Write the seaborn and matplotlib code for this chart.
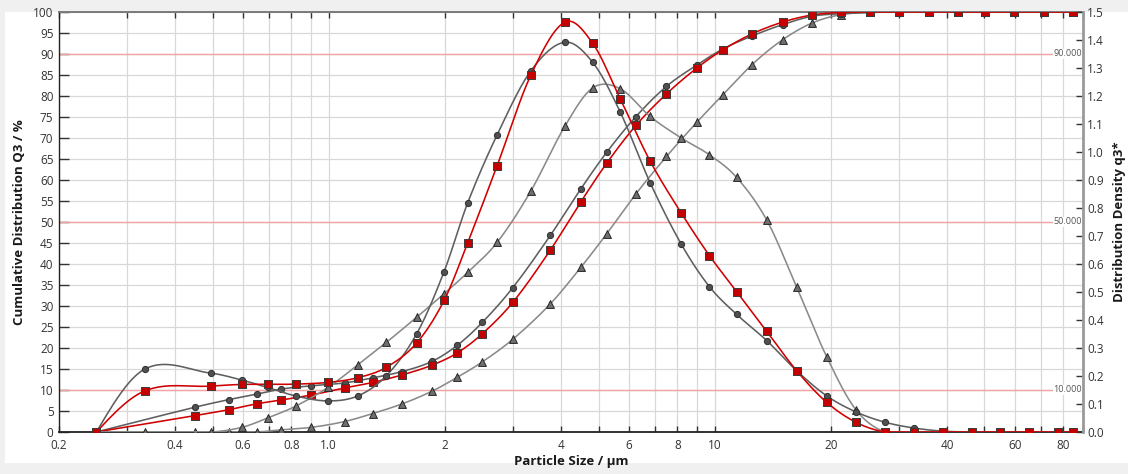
import numpy as np
import pandas as pd
import matplotlib
matplotlib.use("Agg")
import matplotlib.pyplot as plt
import matplotlib.transforms as mtransforms
from matplotlib.patches import Rectangle
from matplotlib.ticker import FixedLocator, FixedFormatter, NullLocator
import seaborn as sns

# ---------------- data ----------------
# cumulative distribution Q3 (%) at the class edges (µm)
edge_size = [0.25, 0.45, 0.55, 0.65, 0.75, 0.9, 1.1, 1.3, 1.55, 1.85, 2.15, 2.5,
             3.0, 3.75, 4.5, 5.25, 6.25, 7.5, 9.0, 10.5, 12.5, 15.0, 17.9, 21.3,
             25.3, 30.1, 35.9, 42.7, 50.3, 59.8, 71.2, 85.0]
q3_cum_circle = [0, 5.9, 7.7, 9.0, 10.2, 11.0, 11.7, 12.9, 14.4, 16.8, 20.6, 26.1,
                 34.4, 46.8, 57.9, 66.6, 75.1, 82.3, 87.4, 91.2, 94.3, 97.0, 99.0, 99.6,
                 99.9, 100, 100, 100, 100, 100, 100, 100]
q3_cum_square = [0, 3.9, 5.3, 6.7, 7.6, 8.8, 10.5, 11.8, 13.6, 15.9, 18.8, 23.4,
                 30.9, 43.3, 54.8, 64.0, 73.0, 80.5, 86.7, 91.0, 94.8, 97.6, 99.3, 99.9,
                 100, 100, 100, 100, 100, 100, 100, 100]
q3_cum_triangle = [0, 0, 0, 0, 0.5, 1.1, 2.5, 4.4, 6.7, 9.7, 13.0, 16.7,
                   22.1, 30.5, 39.2, 47.2, 56.7, 65.6, 73.8, 80.3, 87.5, 93.4, 97.4, 99.4,
                   99.9, 100, 100, 100, 100, 100, 100, 100]

# distribution density q3* at the class centres (µm)
centre_size = [0.25, 0.334, 0.496, 0.597, 0.694, 0.82, 0.995, 1.19, 1.41, 1.69, 1.99,
               2.29, 2.73, 3.34, 4.09, 4.83, 5.69, 6.80, 8.19, 9.69, 11.4, 13.65,
               16.3, 19.5, 23.2, 27.6, 32.9, 39.1, 46.3, 55.0, 65.3, 77.5, 85.0]
q3d_circle = [0, 0.225, 0.210, 0.185, 0.159, 0.129, 0.111, 0.129, 0.201, 0.351, 0.573,
              0.818, 1.061, 1.290, 1.392, 1.320, 1.143, 0.891, 0.671, 0.519, 0.420, 0.326,
              0.219, 0.129, 0.072, 0.035, 0.014, 0.003, 0, 0, 0, 0, 0]
q3d_square = [0, 0.147, 0.164, 0.170, 0.170, 0.171, 0.177, 0.194, 0.231, 0.318, 0.470,
              0.675, 0.951, 1.275, 1.464, 1.388, 1.190, 0.968, 0.782, 0.630, 0.501, 0.359,
              0.219, 0.106, 0.035, 0, 0, 0, 0, 0, 0, 0, 0]
q3d_triangle = [0, 0, 0, 0.017, 0.050, 0.092, 0.159, 0.240, 0.320, 0.410, 0.494,
                0.570, 0.677, 0.861, 1.092, 1.229, 1.226, 1.127, 1.050, 0.990, 0.909, 0.756,
                0.518, 0.269, 0.080, 0, 0, 0, 0, 0, 0, 0, 0]

ref_levels = [10, 50, 90]
ref_labels = ["10.000", "50.000", "90.000"]

x_ticks = [0.2, 0.3, 0.4, 0.5, 0.6, 0.7, 0.8, 0.9, 1, 2, 3, 4, 5, 6, 7, 8, 9,
           10, 20, 30, 40, 50, 60, 70, 80, 90]
x_tick_labels = ["0.2", "", "0.4", "", "0.6", "", "0.8", "", "1.0", "2", "", "4", "",
                 "6", "", "8", "", "10", "20", "", "40", "", "60", "", "80", ""]
y_left_ticks = list(range(0, 101, 5))
y_right_ticks = [i / 10 for i in range(0, 16)]


# smooth curve through the points (cubic Hermite in log-x)
def smooth(x, y, lo, hi, n=30):
    lx = np.log10(np.asarray(x, float))
    y = np.asarray(y, float)
    m = np.empty_like(y)
    m[1:-1] = (y[2:] - y[:-2]) / (lx[2:] - lx[:-2])
    s0 = (y[1] - y[0]) / (lx[1] - lx[0])
    s1 = (y[-1] - y[-2]) / (lx[-1] - lx[-2])
    m[0] = 1.5 * s0 - 0.5 * m[1]
    m[-1] = 1.5 * s1 - 0.5 * m[-2]
    xs, ys = [], []
    t = np.linspace(0, 1, n, endpoint=False)
    h00 = 2 * t**3 - 3 * t**2 + 1
    h10 = t**3 - 2 * t**2 + t
    h01 = -2 * t**3 + 3 * t**2
    h11 = t**3 - t**2
    for i in range(len(y) - 1):
        h = lx[i + 1] - lx[i]
        yy = h00 * y[i] + h10 * h * m[i] + h01 * y[i + 1] + h11 * h * m[i + 1]
        xs.append(10 ** (lx[i] + t * h))
        ys.append(yy)
    xs.append([x[-1]])
    ys.append([y[-1]])
    return np.concatenate(xs), np.clip(np.concatenate(ys), lo, hi)


# ---------------- styling ----------------
sns.set_theme(style="white")
plt.rcParams["font.family"] = ["Open Sans", "DejaVu Sans"]

W, H = 1128, 474
fig = plt.figure(figsize=(W / 100, H / 100), dpi=100)
fig.patch.set_facecolor("#f0f0f0")
panel = Rectangle((5 / W, 11 / H), 1 - 5 / W, (463 - 12) / H,
                  transform=fig.transFigure, facecolor="white",
                  edgecolor="none", zorder=-10)
fig.patches.append(panel)

ax = fig.add_axes([59 / W, 42 / H, 1024 / W, 420 / H])
ax.set_facecolor("white")
ax.set_xscale("log")
ax.set_xlim(0.2, 90)
ax.set_ylim(0, 100)

ax2 = ax.twinx()
ax2.set_ylim(0, 1.5)

styles = {
    "circle": dict(line="#5f5f5f", fill="#505050", edge="#2e2e2e", marker="o", s=20),
    "square": dict(line="#d00000", fill="#c40000", edge="#3a3a3a", marker="s", s=28),
    "triangle": dict(line="#8a8a8a", fill="#6f6f6f", edge="#262626", marker="^", s=32),
}

cum_series = [("triangle", q3_cum_triangle), ("circle", q3_cum_circle), ("square", q3_cum_square)]
den_series = [("triangle", q3d_triangle), ("circle", q3d_circle), ("square", q3d_square)]

for k, (name, vals) in enumerate(cum_series):
    st = styles[name]
    sx, sy = smooth(edge_size, vals, 0, 100)
    sns.lineplot(x=sx, y=sy, ax=ax, color=st["line"], linewidth=1.15,
                 estimator=None, sort=False, zorder=3 + k)
    sns.scatterplot(x=edge_size, y=vals, ax=ax, marker=st["marker"], s=st["s"],
                    color=st["fill"], edgecolor=st["edge"], linewidth=0.7, zorder=3.5 + k)

for k, (name, vals) in enumerate(den_series):
    st = styles[name]
    sx, sy = smooth(centre_size, vals, 0, 1.5)
    sns.lineplot(x=sx, y=sy, ax=ax2, color=st["line"], linewidth=1.15,
                 estimator=None, sort=False, zorder=3 + k)
    sns.scatterplot(x=centre_size, y=vals, ax=ax2, marker=st["marker"], s=st["s"],
                    color=st["fill"], edgecolor=st["edge"], linewidth=0.7, zorder=3.5 + k)

# reference lines
trans = mtransforms.blended_transform_factory(ax.transAxes, ax.transData)
for lvl, lab in zip(ref_levels, ref_labels):
    ax.axhline(lvl, color="#f2a3a3", linewidth=1.0, zorder=2)
    ax.text(0.999, lvl, lab, transform=trans, ha="right", va="center", fontsize=6.5,
            color="#555555", zorder=2.5,
            bbox=dict(facecolor="white", edgecolor="none", pad=0.6))

# grid & ticks
ax.xaxis.set_major_locator(FixedLocator(x_ticks))
ax.xaxis.set_major_formatter(FixedFormatter(x_tick_labels))
ax.xaxis.set_minor_locator(NullLocator())
ax.set_yticks(y_left_ticks)
ax.set_yticklabels([str(v) for v in y_left_ticks])
ax2.set_yticks(y_right_ticks)
ax2.set_yticklabels([f"{v:.1f}" for v in y_right_ticks])

ax.grid(True, which="major", color="#d8d8d8", linewidth=0.9, zorder=0)
ax.set_axisbelow(True)
ax2.grid(False)

ax.tick_params(axis="x", which="major", direction="in", length=4, width=1,
               color="#333333", top=True, bottom=True, labelsize=8.5,
               labelcolor="#333333", pad=5)
ax.tick_params(axis="y", direction="in", length=7, width=1, color="#333333",
               labelsize=8.5, labelcolor="#333333", pad=4, left=True)
ax2.tick_params(axis="y", direction="in", length=5, width=1, color="#333333",
                labelsize=8.5, labelcolor="#333333", pad=3, right=True)

for sp in ax.spines.values():
    sp.set_visible(True)
ax.spines["left"].set_color("#222222")
ax.spines["left"].set_linewidth(1.0)
ax.spines["bottom"].set_color("#222222")
ax.spines["bottom"].set_linewidth(1.3)
ax.spines["top"].set_color("#7a7a7a")
ax.spines["top"].set_linewidth(1.4)
ax.spines["right"].set_visible(False)
for nm in ["left", "top", "bottom"]:
    ax2.spines[nm].set_visible(False)
ax2.spines["right"].set_visible(True)
ax2.spines["right"].set_color("#9a9a9a")
ax2.spines["right"].set_linewidth(2.0)

# axis labels
lab_kw = dict(fontsize=9.5, fontweight="bold", color="#1a1a1a")
ax.set_xlabel("Particle Size / µm", **lab_kw)
ax.xaxis.label.set_va("center")
ax.xaxis.set_label_coords(0.5, (432 - 462) / 420)
ax.set_ylabel("Cumulative Distribution Q3 / %", **lab_kw)
ax.yaxis.label.set_va("center")
ax.yaxis.set_label_coords((20 - 59) / 1024, 0.5)
ax2.set_ylabel("Distribution Density q3*", **lab_kw)
ax2.yaxis.label.set_va("center")
ax2.yaxis.set_label_coords((1119 - 59) / 1024, 0.5)

fig.savefig("out.png", dpi=100, facecolor=fig.get_facecolor())
